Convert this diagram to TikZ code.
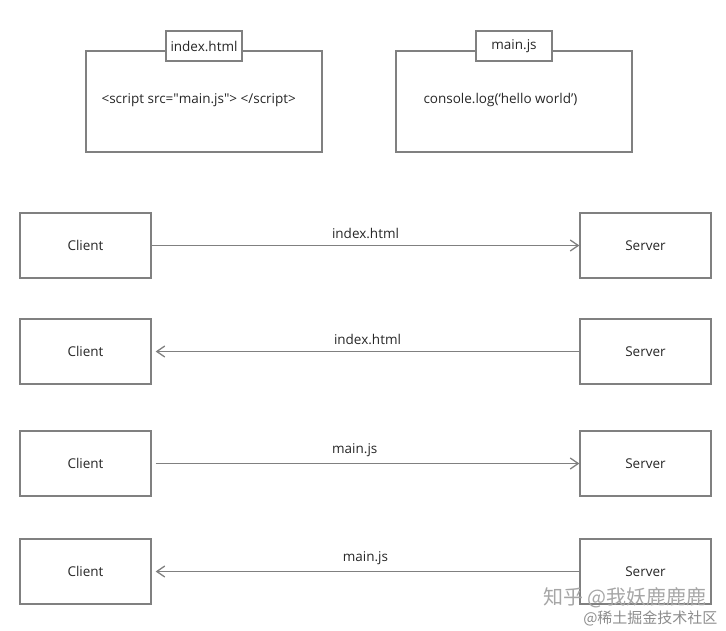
\documentclass[tikz,border=0pt]{standalone}
\usepackage{fontspec}
\setmainfont{Open Sans}
\newfontfamily\cjkfont{Noto Sans CJK SC}
\usetikzlibrary{arrows.meta}

\tikzset{
    box/.style={draw=black!50, line width=1.3pt, text=black!85, minimum width=131pt, minimum height=65pt},
    filebox/.style={draw=black!50, line width=1.3pt, minimum width=236pt, minimum height=101pt},
    tabbox/.style={draw=black!50, line width=1.3pt, fill=white, text=black!85, minimum width=76pt, minimum height=30pt},
    msg/.style={draw=black!50, line width=1.3pt, -{Straight Barb[length=8pt,width=11pt]}},
    label/.style={above=3pt, text=black!85},
}

\begin{document}
\begin{tikzpicture}[x=1pt, y=-1pt, font=\fontsize{13.5}{16}\selectfont]
    \useasboundingbox (0, 0) rectangle (726, 630);

    % ファイルを描画
    \node[filebox] (htmlbox) at (204, 101.5) {};
    \node[tabbox] (htmltab) at (204, 46) {index.html};
    \node[anchor=west, text=black!85] (htmlcode) at (98, 100) {<script src=\textquotedbl main.js\textquotedbl> </script>};
    \node[filebox] (jsbox) at (514, 101.5) {};
    \node[tabbox] (jstab) at (514, 46) {main.js};
    \node[anchor=west, text=black!85] (jscode) at (420, 100) {console.log(‘hello world’)};

    % ノードを描画
    \node[box] (C1) at (85.5, 245.5) {Client};
    \node[box] (S1) at (645.5, 245.5) {Server};
    \node[box] (C2) at (85.5, 351.5) {Client};
    \node[box] (S2) at (645.5, 351.5) {Server};
    \node[box] (C3) at (85.5, 463.5) {Client};
    \node[box] (S3) at (645.5, 463.5) {Server};
    \node[box] (C4) at (85.5, 571.5) {Client};
    \node[box] (S4) at (645.5, 571.5) {Server};

    % エッジを描画
    \draw[msg] (C1) -- node[label] {index.html} (S1);
    \draw[msg] (S2) -- node[label] {index.html} ([xshift=4pt]C2.east);
    \draw[msg] ([xshift=4pt]C3.east) -- node[label, pos=0.47] {main.js} (S3);
    \draw[msg] (S4) -- node[label, pos=0.505] {main.js} ([xshift=4pt]C4.east);

    % 透かし
    \node[anchor=east, text=black!35, font=\cjkfont\fontsize{20}{22}\selectfont] (mark1) at (710, 598) {知乎 @我妖鹿鹿鹿};
    \node[anchor=east, text=black!45, font=\cjkfont\fontsize{15}{17}\selectfont] (mark2) at (721, 618) {@稀土掘金技术社区};
\end{tikzpicture}
\end{document}
